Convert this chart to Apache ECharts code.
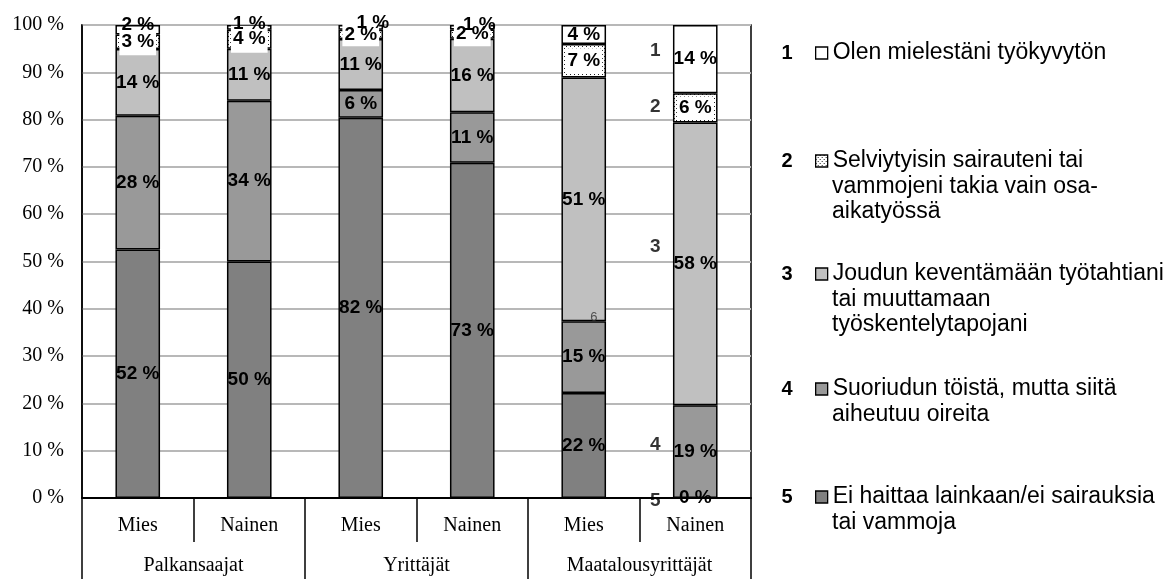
<!DOCTYPE html>
<html><head><meta charset="utf-8">
<script src="https://cdn.jsdelivr.net/npm/echarts@6/dist/echarts.min.js"></script>
<style>html,body{margin:0;padding:0;background:#fff}#c{width:1163px;height:579px}</style>
</head><body><div id="c"></div>
<script>
// ---- data ----
const subCategories = ['Mies', 'Nainen', 'Mies', 'Nainen', 'Mies', 'Nainen'];
const groupCategories = ['Palkansaajat', 'Yrittäjät', 'Maatalousyrittäjät'];
const seriesNames = [
  'Olen mielestäni työkyvytön',
  'Selviytyisin sairauteni tai vammojeni takia vain osa-aikatyössä',
  'Joudun keventämään työtahtiani tai muuttamaan työskentelytapojani',
  'Suoriudun töistä, mutta siitä aiheutuu oireita',
  'Ei haittaa lainkaan/ei sairauksia tai vammoja'
];
const legendLines = [
  ['Olen mielestäni työkyvytön'],
  ['Selviytyisin sairauteni tai', 'vammojeni takia vain osa-', 'aikatyössä'],
  ['Joudun keventämään työtahtiani', 'tai muuttamaan', 'työskentelytapojani'],
  ['Suoriudun töistä, mutta siitä', 'aiheutuu oireita'],
  ['Ei haittaa lainkaan/ei sairauksia', 'tai vammoja']
];
const legendNumbers = ['1', '2', '3', '4', '5'];
const tyokyvyton = [2, 1, 1, 1, 4, 14];      // 1
const osaaika    = [3, 4, 2, 2, 7, 6];       // 2
const keventaa   = [14, 11, 11, 16, 51, 58]; // 3
const oireita    = [28, 34, 6, 11, 15, 19];  // 4
const eiHaittaa  = [52, 50, 82, 73, 22, 0];  // 5
const strayLabel = '6';

// ---- styles ----
const rawBySeries = [tyokyvyton, osaaika, keventaa, oireita, eiHaittaa];
const pc = document.createElement('canvas'); pc.width = 4; pc.height = 4;
const g = pc.getContext('2d');
g.fillStyle = '#fff'; g.fillRect(0, 0, 4, 4);
g.fillStyle = '#222'; g.fillRect(0, 0, 1, 1); g.fillRect(2, 2, 1, 1);
const patternFill = { image: pc, repeat: 'repeat' };
const seriesColors = ['#ffffff', patternFill, '#c0c0c0', '#999999', '#808080'];
const topNudge = [[0, -5], [0, -4], [12, -5], [7, -3], [0, 0], [0, 0]];
const bgPad = [[1, 2, 7, 2], [1, 2, 7, 2], [0, 2, 5, 2], [0, 2, 5, 2], [3, 2, 3, 2], [2, 2, 2, 2]];
const numNudge = [[-40, -8], [-40, -1], [-40, -17], [-40, -7], [-40, 3]];
const LH = 25.5;
const legendY = [53, 161, 274, 389, 497];
const LEGEND_X = 815;
const TEXT_X = 832;

const totals = subCategories.map((_, j) => rawBySeries.reduce((s, a) => s + a[j], 0));
const norm = arr => arr.map((v, j) => v / totals[j] * 100);

const labelFont = { fontFamily: 'Liberation Sans', fontWeight: 'bold', fontSize: 19, color: '#000' };
const series = [];
// stack bottom -> top : 5,4,3,2,1
for (let k = 4; k >= 0; k--) {
  const raw = rawBySeries[k];
  const vals = norm(raw);
  series.push({
    name: seriesNames[k], type: 'bar', stack: 'all', barWidth: '40%',
    xAxisIndex: 0, yAxisIndex: 0,
    itemStyle: { color: seriesColors[k], borderColor: '#000', borderWidth: 1.5 },
    data: vals.map((v, j) => {
      const item = { value: v };
      if (k === 0) item.label = { offset: topNudge[j] };
      if (k === 1) item.label = { backgroundColor: '#fff', padding: bgPad[j] };
      return item;
    }),
    label: Object.assign({ show: true, position: 'inside', formatter: p => raw[p.dataIndex] + ' %' }, labelFont),
    emphasis: { disabled: true }
  });
}
// numbers next to the last bar
const last = subCategories.length - 1;
let cum = 0; const mids = [];
for (let k = 4; k >= 0; k--) { const v = norm(rawBySeries[k])[last]; mids[k] = cum + v / 2; cum += v; }
const strayY = norm(eiHaittaa)[4] + norm(oireita)[4];
series.push({
  type: 'scatter', symbolSize: 0, silent: true, z: 10, xAxisIndex: 0, yAxisIndex: 0,
  data: legendNumbers.map((n, k) => ({
    value: [last, mids[k]],
    label: { show: true, position: 'inside', formatter: n, offset: numNudge[k], fontFamily: 'Liberation Sans', fontWeight: 'bold', fontSize: 19, color: '#000' }
  })).concat([{
    value: [4, strayY],
    label: { show: true, position: 'inside', formatter: strayLabel, offset: [10, -4], fontFamily: 'Liberation Sans', fontSize: 13, color: '#333' }
  }])
});

const legends = legendLines.map((lines, i) => ({
  data: [seriesNames[i]], left: LEGEND_X, top: legendY[i] - LH / 2,
  orient: 'vertical', padding: 0, itemWidth: 12, itemHeight: 12, icon: 'rect', selectedMode: false,
  formatter: () => lines[0],
  itemStyle: { borderColor: '#000', borderWidth: 1.3 },
  textStyle: { fontFamily: 'Liberation Sans', fontSize: 23, color: '#000', lineHeight: LH }
}));

const graphics = [];
legendNumbers.forEach((n, i) => {
  graphics.push({
    type: 'text', x: 787, y: legendY[i], z: 10,
    style: { text: n, textAlign: 'center', textVerticalAlign: 'middle', font: 'bold 20px "Liberation Sans"', fill: '#000' }
  });
  legendLines[i].slice(1).forEach((line, m) => {
    graphics.push({
      type: 'text', x: TEXT_X, y: legendY[i] + (m + 1) * LH, z: 10,
      style: { text: line, textAlign: 'left', textVerticalAlign: 'middle', font: '23px "Liberation Sans"', fill: '#000' }
    });
  });
});

const chart = echarts.init(document.getElementById('c'));
chart.setOption({
  animation: false,
  backgroundColor: '#fff',
  grid: { left: 82, right: 412, top: 25, bottom: 81, show: true, borderColor: '#000', borderWidth: 1.5, backgroundColor: 'transparent' },
  legend: legends,
  graphic: graphics,
  xAxis: [{
    type: 'category', data: subCategories, position: 'bottom',
    axisLine: { lineStyle: { color: '#000', width: 2 } },
    axisTick: { show: true, interval: 0, length: 44, lineStyle: { color: '#000', width: 1.5 } },
    axisLabel: { interval: 0, margin: 18, fontFamily: 'Liberation Serif', fontSize: 20, color: '#000' }
  }, {
    type: 'category', data: groupCategories, position: 'bottom',
    axisLine: { show: false },
    axisTick: { show: true, interval: 0, length: 81, lineStyle: { color: '#000', width: 1.5 } },
    axisLabel: { interval: 0, margin: 58, fontFamily: 'Liberation Serif', fontSize: 20, color: '#000' }
  }],
  yAxis: {
    type: 'value', min: 0, max: 100, interval: 10,
    axisLine: { show: true, lineStyle: { color: '#000', width: 1.5 } },
    axisTick: { show: false },
    splitLine: { lineStyle: { color: '#b8b8b8', width: 2 } },
    axisLabel: { formatter: '{value} %', margin: 18, fontFamily: 'Liberation Serif', fontSize: 20, color: '#000' }
  },
  series: series
});
</script>
</body></html>
